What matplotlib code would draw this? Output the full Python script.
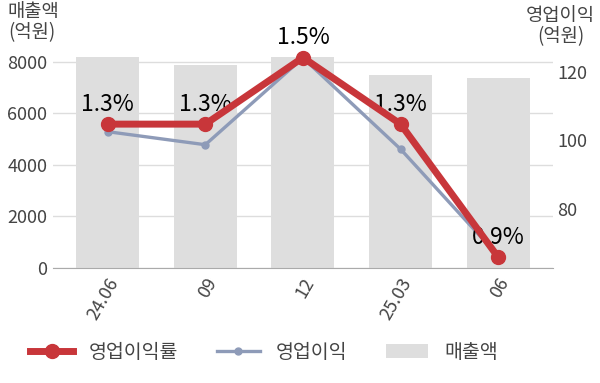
import matplotlib
matplotlib.use("Agg")
import matplotlib.pyplot as plt
from matplotlib.lines import Line2D
from matplotlib.patches import Patch
from matplotlib.transforms import ScaledTranslation
import numpy as np

plt.rcParams['font.family'] = ['Noto Sans CJK KR', 'DejaVu Sans']

# ── データ ──────────────────────────────────────────
quarters = ['24.06', '09', '12', '25.03', '06']
sales = [8180, 7855, 8165, 7465, 7350]          # 매출액 (억원)
op_profit = [102.5, 98.7, 124.0, 97.4, 66.3]    # 영업이익 (억원)
op_margin = [1.3, 1.3, 1.5, 1.3, 0.9]           # 영업이익률 (%)

C_RED = '#C8363A'
C_BLUE = '#8E9BB8'
C_BAR = '#DEDEDE'
C_TXT = '#444444'
FS = 13

fig = plt.figure(figsize=(6, 3.83), dpi=100, facecolor='white')
ax = fig.add_axes([0.0883, 0.3003, 0.8333, 0.606])
ax2 = ax.twinx()
ax3 = ax.twinx()

x = np.arange(len(quarters))

# 매출액 bars
ax.bar(x, sales, width=0.645, color=C_BAR, zorder=2)
ax.set_ylim(0, 9000)
ax.set_xlim(-0.56, 4.56)
ax.set_yticks([0, 2000, 4000, 6000, 8000])
ax.set_axisbelow(True)
ax.grid(axis='y', color='#DDDDDD', linewidth=1)
ax.tick_params(axis='y', length=0, labelsize=FS, labelcolor=C_TXT, pad=4)
ax.set_xticks(x)
ax.set_xticklabels(quarters, rotation=60, ha='right', va='center',
                   rotation_mode='anchor', fontsize=FS, color=C_TXT)
ax.tick_params(axis='x', length=0, pad=8)
shift = ScaledTranslation(7 / 100, 0, fig.dpi_scale_trans)
for lbl in ax.get_xticklabels():
    lbl.set_transform(lbl.get_transform() + shift)
for s in ['top', 'left', 'right']:
    ax.spines[s].set_visible(False)
ax.spines['bottom'].set_color('#AAAAAA')

# 영업이익 line (right axis)
ax2.plot(x, op_profit, color=C_BLUE, linewidth=2.4, marker='o', markersize=5, zorder=3)
ax2.set_ylim(62.8, 130.4)
ax2.set_yticks([80, 100, 120])
ax2.tick_params(axis='y', length=0, labelsize=FS, labelcolor=C_TXT, pad=3)
for s in ax2.spines.values():
    s.set_visible(False)

# 영업이익률 line (hidden axis)
ax3.plot(x, op_margin, color=C_RED, linewidth=5, marker='o', markersize=10, zorder=4)
ax3.set_ylim(0.868, 1.565)
ax3.axis('off')
for i, v in enumerate(op_margin):
    ax3.annotate(f'{v}%', (i, v), xytext=(0, 6), textcoords='offset points',
                 ha='center', va='bottom', fontsize=16.5, color='black')

# 축 제목
fig.text(33 / 600, 1 - 12 / 383, '매출액', ha='center', va='center', fontsize=13.5, color=C_TXT)
fig.text(32 / 600, 1 - 33 / 383, '(억원)', ha='center', va='center', fontsize=13.5, color=C_TXT)
fig.text(560 / 600, 1 - 15 / 383, '영업이익', ha='center', va='center', fontsize=13.5, color=C_TXT)
fig.text(561 / 600, 1 - 37 / 383, '(억원)', ha='center', va='center', fontsize=13.5, color=C_TXT)

# 범례
handles = [
    Line2D([], [], color=C_RED, linewidth=5, marker='o', markersize=10),
    Line2D([], [], color=C_BLUE, linewidth=2.4, marker='o', markersize=5),
    Patch(facecolor=C_BAR, edgecolor='none'),
]
fig.legend(handles, ['영업이익률', '영업이익', '매출액'], loc='center',
           bbox_to_anchor=(0.44, 1 - 352 / 383), ncol=3, frameon=False,
           fontsize=14, handlelength=2.2, columnspacing=2.0, handletextpad=0.8,
           labelcolor=C_TXT)

plt.savefig('out.png', dpi=100, facecolor='white')
plt.close()
